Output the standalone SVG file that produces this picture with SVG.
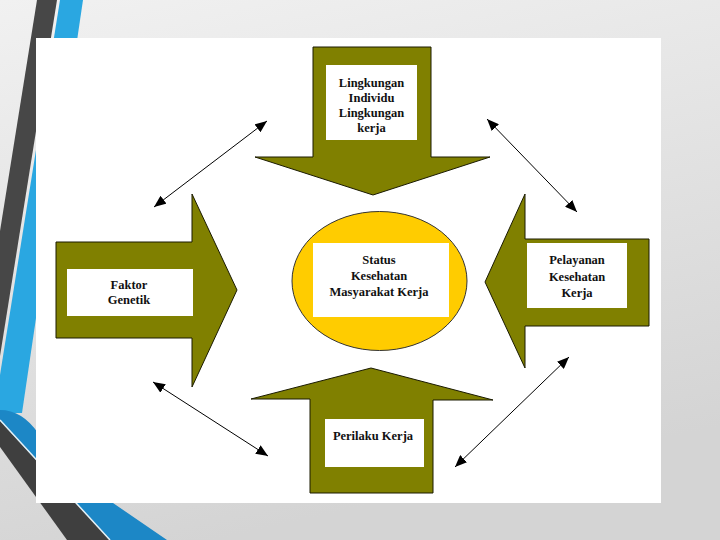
<svg xmlns="http://www.w3.org/2000/svg" width="720" height="540" viewBox="0 0 720 540">
<defs>
<linearGradient id="bg" x1="0" y1="0" x2="0.3" y2="1">
<stop offset="0" stop-color="#f1f1f1"/>
<stop offset="1" stop-color="#d4d4d4"/>
</linearGradient>
<marker id="ah" viewBox="0 0 12 10" refX="12" refY="5" markerWidth="12" markerHeight="10" markerUnits="userSpaceOnUse" orient="auto-start-reverse">
<path d="M0,0 L12,5 L0,10 z" fill="#000"/>
</marker>
<style>
.big{fill:#808000;stroke:#1a1a00;stroke-width:1}
.box{fill:#ffffff}
.lbl{font-family:"Liberation Serif","Times New Roman",serif;font-size:12.5px;font-weight:bold;fill:#111;text-anchor:middle}
.con{stroke:#000;stroke-width:1;fill:none;marker-start:url(#ah);marker-end:url(#ah)}
</style>
</defs>
<rect x="0" y="0" width="720" height="540" fill="url(#bg)"/>
<g id="decor">
<polygon points="37,0 57,0 0,356 0,231" fill="#474747"/>
<polygon points="60,0 83,0 22,413 0,413 0,375" fill="#2aa7e1"/>
<path d="M0,410 Q22,410 38,433 L113,503 L167,540 L110,540 L0,421 Z" fill="#1c87c6"/>
<polygon points="0,421 110,540 67,540 0,447" fill="#3f3f3f"/>
<line x1="0" y1="420" x2="110" y2="540" stroke="#e6f2f8" stroke-width="1.5"/>
</g>
<rect id="panel" x="36" y="38" width="625" height="465" fill="#ffffff"/>
<g id="n-top">
<polygon class="big" points="313,47 431,47 431,157 490,157 373,195 255,157 313,157"/>
<rect class="box" x="326" y="65" width="91" height="75"/>
<text class="lbl" x="371.5" y="87">Lingkungan</text>
<text class="lbl" x="371.5" y="102">Individu</text>
<text class="lbl" x="371.5" y="117">Lingkungan</text>
<text class="lbl" x="371.5" y="132">kerja</text>
</g>
<g id="n-left">
<polygon class="big" points="56,242 192,242 192,194 237,290 192,387 192,338 56,338"/>
<rect class="box" x="67" y="269" width="126" height="47"/>
<text class="lbl" x="129" y="289">Faktor</text>
<text class="lbl" x="129" y="304">Genetik</text>
</g>
<g id="n-right">
<polygon class="big" points="649,239 649,326 525,326 525,368 485,282 525,194 525,239"/>
<rect class="box" x="527" y="243" width="100" height="65"/>
<text class="lbl" x="577" y="264">Pelayanan</text>
<text class="lbl" x="577" y="281">Kesehatan</text>
<text class="lbl" x="577" y="297">Kerja</text>
</g>
<g id="n-bottom">
<polygon class="big" points="310,493 433,493 433,400 493,400 371,368 251,399 310,399"/>
<rect class="box" x="325" y="419" width="99" height="48"/>
<text class="lbl" x="373" y="440">Perilaku Kerja</text>
</g>
<g id="n-center">
<ellipse cx="379.5" cy="281" rx="87.5" ry="69.5" fill="#ffcc00" stroke="#333" stroke-width="1"/>
<rect class="box" x="313" y="243" width="136" height="74"/>
<text class="lbl" x="379" y="264">Status</text>
<text class="lbl" x="379" y="280">Kesehatan</text>
<text class="lbl" x="379" y="296">Masyarakat Kerja</text>
</g>
<g id="connectors">
<line class="con" x1="154" y1="207" x2="267" y2="121"/>
<line class="con" x1="487" y1="119" x2="577" y2="212"/>
<line class="con" x1="569" y1="357" x2="455" y2="467"/>
<line class="con" x1="153" y1="382" x2="268" y2="456"/>
</g>
</svg>
